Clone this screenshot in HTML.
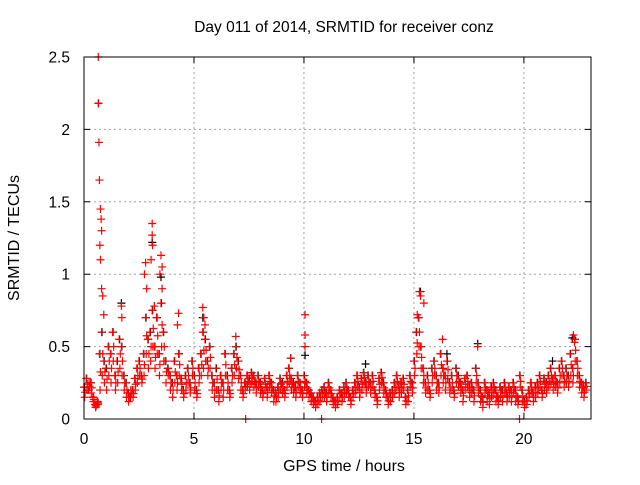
<!DOCTYPE html>
<html><head><meta charset="utf-8"><style>
body{margin:0;background:#fff;font-family:"Liberation Sans",sans-serif}
svg text{font-family:"Liberation Sans",sans-serif;fill:#000}
</style></head><body>
<svg id="chart" width="640" height="480" xmlns="http://www.w3.org/2000/svg">
<rect width="640" height="480" fill="#fff"/>
<text x="344" y="32" font-size="15.5" text-anchor="middle">Day 011 of 2014, SRMTID for receiver conz</text>
<g id="grid"></g>
<g id="ticks"></g>
<g id="marks"></g>
<rect x="84" y="57" width="507" height="362" fill="none" stroke="#000" stroke-width="1"/>
<text x="344" y="471" font-size="16" text-anchor="middle">GPS time / hours</text>
<text transform="translate(19,238) rotate(-90)" font-size="16" text-anchor="middle">SRMTID / TECUs</text>
</svg>
<script>
const xTicks=[0,5,10,15,20];
const yTicks=[0,0.5,1,1.5,2,2.5];
const yTickLabels=["0","0.5","1","1.5","2","2.5"];
const seriesA=[.22,.28,.2,.25,.15,.1,.12,.45,.6,.4,.35,.5,.45,.6,.3,.4,.55,.5,.3,.25,.18,.15,.2,.28,.35,.4,.3,.45,.7,.55,.6,.75,.5,.7,.45,.8,.6,.4,.35,.3,.25,.4,.3,.45,.28,.2,.3,.35,.25,.4,.3,.2,.35,.45,.6,.55,.4,.5,.3,.25,.35,.2,.3,.25,.45,.3,.2,.35,.45,.5,.4,.3,.2,.25,.3,.28,.32,.3,.25,.3,.25,.2,.28,.22,.3,.25,.2,.18,.22,.28,.25,.2,.3,.35,.28,.25,.22,.3,.25,.2,.3,.25,.2,.18,.15,.12,.15,.18,.2,.22,.18,.25,.2,.15,.12,.15,.2,.18,.22,.25,.2,.15,.2,.25,.3,.22,.28,.32,.25,.3,.25,.3,.2,.15,.28,.32,.25,.2,.15,.18,.2,.25,.3,.22,.25,.28,.15,.2,.3,.25,.4,.6,.7,.5,.35,.25,.3,.2,.35,.4,.3,.25,.45,.35,.3,.4,.25,.3,.2,.35,.3,.25,.2,.28,.3,.22,.25,.2,.35,.25,.2,.15,.25,.2,.18,.22,.25,.2,.15,.22,.2,.25,.18,.22,.2,.25,.2,.15,.3,.2,.12,.15,.2,.25,.18,.22,.25,.3,.2,.28,.25,.3,.35,.28,.3,.25,.35,.4,.3,.35,.3,.45,.35,.55,.4,.3,.25,.22,.25];
const seriesB=[.15,.2,.25,.18,.12,.08,.1,.2,.3,.25,.2,.3,.25,.4,.2,.25,.35,.3,.2,.15,.12,.2,.15,.2,.25,.3,.25,.3,.45,.35,.4,.5,.35,.45,.3,.5,.4,.25,.3,.2,.15,.25,.2,.3,.2,.15,.2,.25,.18,.3,.2,.15,.25,.3,.35,.4,.3,.35,.2,.15,.2,.12,.2,.15,.3,.2,.15,.25,.3,.35,.28,.2,.15,.2,.22,.2,.25,.22,.18,.22,.18,.15,.2,.15,.22,.18,.12,.12,.15,.2,.18,.15,.22,.25,.2,.18,.15,.22,.18,.15,.22,.18,.15,.12,.1,.08,.1,.12,.15,.15,.12,.18,.15,.1,.08,.1,.15,.12,.15,.18,.15,.1,.15,.18,.22,.15,.2,.25,.18,.22,.18,.22,.15,.1,.2,.25,.18,.15,.1,.12,.15,.18,.22,.15,.18,.2,.1,.12,.22,.18,.3,.45,.5,.35,.25,.18,.2,.15,.25,.3,.2,.18,.3,.25,.2,.28,.18,.2,.15,.25,.22,.18,.12,.2,.22,.15,.18,.12,.25,.18,.12,.08,.18,.12,.1,.15,.18,.12,.1,.15,.12,.18,.12,.15,.12,.18,.12,.1,.22,.12,.08,.1,.15,.18,.12,.15,.18,.22,.15,.2,.18,.22,.25,.2,.22,.18,.25,.3,.22,.25,.22,.3,.25,.4,.3,.22,.18,.15,.2];
const spikeTimes=[0.65,0.65,0.68,0.7,0.75,0.78,0.8,0.72,0.75,0.8,0.85,0.9,1.7,1.72,2.8,2.75,2.85,3.1,3.1,3.12,3.05,3.5,3.55,3.45,3.55,3.2,4.3,4.25,5.4,5.45,5.5,6.9,10.05,10.05,10.05,15.25,15.3,15.45,15.15,16.3,17.9,22.25,22.3,9.4,7.35,10.8,19.8];
const spikeValues=[2.5,2.18,1.91,1.65,1.45,1.38,1.3,1.2,1.1,0.9,0.85,0.72,0.78,0.7,1.08,1.0,0.9,1.35,1.27,1.2,1.1,1.13,1.05,1.0,0.9,0.78,0.73,0.65,0.77,0.7,0.65,0.57,0.72,0.58,0.5,0.88,0.85,0.8,0.72,0.55,0.5,0.58,0.53,0.42,0,0,0];
const blackTimes=[0.66,1.7,3.1,3.5,5.4,10.05,15.3,17.9,22.2,9.4,12.8,16.5,21.3];
const blackValues=[2.18,0.8,1.22,0.98,0.7,0.44,0.88,0.52,0.56,0.42,0.38,0.45,0.4];
const X=v=>84+v*(507/23.05), Y=v=>419-v*(362/2.5);
const NS="http://www.w3.org/2000/svg";
const grid=document.getElementById('grid'),ticks=document.getElementById('ticks'),marks=document.getElementById('marks');
function mk(tag,attrs,parent){const e=document.createElementNS(NS,tag);for(const k in attrs)e.setAttribute(k,attrs[k]);parent.appendChild(e);return e;}
xTicks.forEach(t=>{
 if(t>0){const g=mk('line',{x1:X(t),x2:X(t),y1:57,y2:419,stroke:'#a0a0a0','stroke-dasharray':'2,3'},grid);
 
 }
 const tk=mk('path',{d:`M${X(t)} 419v-6M${X(t)} 57v6`,stroke:'#000'},ticks);
 
 
 const l=mk('text',{x:X(t),y:444,'font-size':15.5,'text-anchor':'middle'},ticks);l.textContent=String(t);
 
 
});
yTicks.forEach((t,i)=>{
 if(t>0&&t<2.5){const g=mk('line',{x1:84,x2:591,y1:Y(t),y2:Y(t),stroke:'#a0a0a0','stroke-dasharray':'2,3'},grid);
 
 }
 const tk=mk('path',{d:`M84 ${Y(t)}h6M591 ${Y(t)}h-6`,stroke:'#000'},ticks);
 
 
 const l=mk('text',{x:70,y:Y(t)+5.5,'font-size':15.5,'text-anchor':'end'},ticks);l.textContent=yTickLabels[i];
 
 
});
function plus(t,v,c){const p=mk('path',{d:`M${X(t)-4} ${Y(v)}h8M${X(t)} ${Y(v)-4}v8`,stroke:c,'stroke-width':1.2},marks);
 
 }
blackTimes.forEach((t,i)=>plus(t,blackValues[i],'#000'));
seriesA.forEach((v,i)=>plus(i*0.1+0.02,v,'#000'));
seriesA.forEach((v,i)=>{plus(i*0.1,v,'#f00');plus(i*0.1+0.05,(v+seriesB[i])/2,'#f00');});
seriesB.forEach((v,i)=>plus(i*0.1+0.03,v,'#f00'));
spikeTimes.forEach((t,i)=>plus(t,spikeValues[i],'#f00'));
</script>
</body></html>
